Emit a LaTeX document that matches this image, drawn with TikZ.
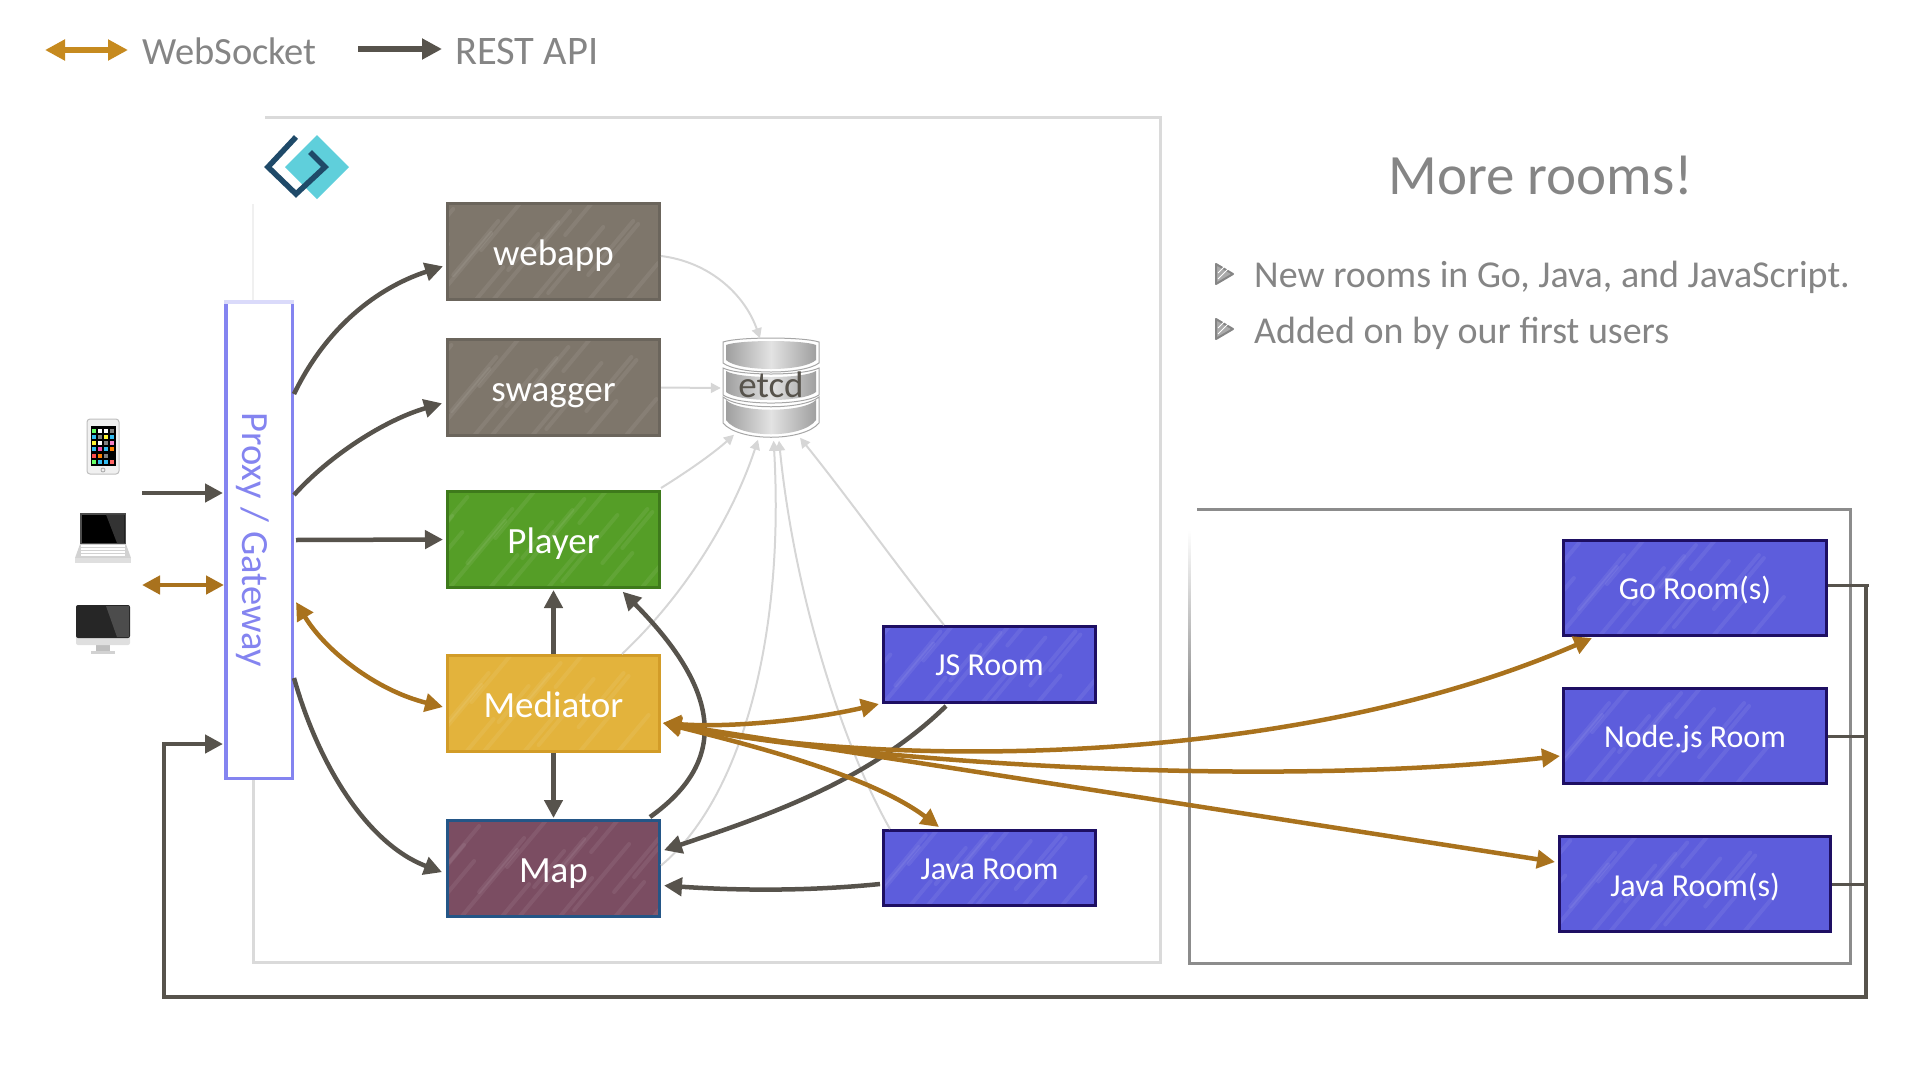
\documentclass[tikz,border=0pt]{standalone}
\usepackage{fontspec}
\setmainfont{Carlito}
\usetikzlibrary{positioning}
\usetikzlibrary{arrows.meta}
\definecolor{wsOrange}{HTML}{A9721D}
\definecolor{wsLegend}{HTML}{C68A1F}
\definecolor{restGrey}{HTML}{57534C}
\definecolor{etcdLine}{HTML}{D6D6D6}
\definecolor{textGrey}{HTML}{858585}
\definecolor{proxyBlue}{HTML}{8484F0}
\definecolor{roomFill}{HTML}{5D5DDC}
\definecolor{roomEdge}{HTML}{1E0F63}
\tikzset{%
  streak/.style={
    white,
    opacity=0.07,
    line width=4pt,
    line cap=round
  },
  sketchy/.style={
    path picture={
      \foreach \sx/\sy/\sl in {-125/20/40,-100/45/55,-90/5/35,-70/-20/30,-62/40/60,-40/10/45,-30/50/40,-12/-15/40,0/35/65,15/5/30,28/50/45,42/-12/35,55/28/55,72/-30/35,85/48/40,95/10/45,115/-5/30,-115/-10/25,130/40/35}{
        \draw[streak,shift={(path picture bounding box.center)}] (\sx,\sy) -- ++(\sl,-\sl*1.2);
      }
    }
  },
  service/.style={
    rectangle,
    draw,
    sketchy,
    line width=3pt,
    minimum width=212pt,
    minimum height=96pt,
    text=white,
    text height=27pt,
    text depth=0pt,
    font=\fontsize{37}{40}\selectfont
  },
  room/.style={
    rectangle,
    draw=roomEdge,
    fill=roomFill,
    sketchy,
    line width=3pt,
    text=white,
    text height=22pt,
    text depth=0pt,
    font=\fontsize{32}{36}\selectfont
  },
  rest/.style={draw=restGrey, line width=4.5pt, -{Triangle[length=18pt,width=18pt]}, shorten >=1pt},
  socket/.style={draw=wsOrange, line width=4.5pt, {Triangle[length=18pt,width=18pt]}-{Triangle[length=18pt,width=18pt]}},
  etcdarrow/.style={draw=etcdLine, line width=2pt, -{Triangle[length=10pt,width=10pt]}},
  legendtext/.style={text=textGrey, anchor=base west, inner sep=0pt, font=\fontsize{38.5}{42}\selectfont},
  bullettext/.style={text=textGrey, anchor=base west, inner sep=0pt, font=\fontsize{38}{42}\selectfont},
  bulletmark/.style={draw=textGrey, fill=textGrey!70, line width=2pt, line join=round}
}
\newcommand{\etcdslice}[4]{%
  \filldraw[draw=gray!70, fill=white, line width=1pt] (723,#1) .. controls (739,#2) and (803,#2) .. (819,#1) -- (819,#3) .. controls (803,#4) and (739,#4) .. (723,#3) -- cycle;
  \shade[left color=gray!75, right color=gray!75, middle color=gray!22] (726,#1+3) .. controls (739,#2+3) and (803,#2+3) .. (816,#1+3) -- (816,#3-3) .. controls (803,#4-3) and (739,#4-3) .. (726,#3-3) -- cycle;
}
\begin{document}
\begin{tikzpicture}[x=1pt,y=-1pt]
  \useasboundingbox (0,0) rectangle (1920,1080);

  % Legend
  \node[legendtext] (wslabel) at (142,64) {WebSocket};
  \node[legendtext,font=\fontsize{40.5}{44}\selectfont] (restlabel) at (455,64) {REST API};
  \coordinate (wsfrom) at (45,50);
  \coordinate (wsto) at (128,50);
  \coordinate (restfrom) at (358,49);
  \coordinate (restto) at (442,49);
  \path[socket,draw=wsLegend,line width=6pt,{Triangle[length=20pt,width=20pt]}-{Triangle[length=20pt,width=20pt]}] (wsfrom) -- (wsto);
  \path[rest,line width=5.5pt,-{Triangle[length=20pt,width=20pt]},shorten >=0pt] (restfrom) -- (restto);

  % Frames
  \draw[draw=etcdLine!90,line width=3pt] (265,117.5) -- (1160,117.5) -- (1160,962) -- (253,962) -- (253,780);
  \draw[draw=gray!12,line width=1.5pt] (253,204) -- (253,300);
  \draw[draw=gray!90,line width=3pt] (1197,509) -- (1850,509) -- (1850,963) -- (1189,963) -- (1189,700);
  \shade[top color=white,bottom color=gray!90] (1188,530) rectangle (1190.5,700);

  % Logo
  \fill[fill={rgb,255:red,95;green,207;blue,219}] (317,135) -- (349,167) -- (317,199) -- (285,167) -- cycle;
  \draw[draw={rgb,255:red,31;green,74;blue,105},line width=5.5pt] (296,137) -- (268,167) -- (296,194) -- (325,167) -- (310,152);

  % Title
  \node[text=textGrey,anchor=base,inner sep=0pt,font=\fontsize{57}{60}\selectfont] (title) at (1541,194) {More rooms!};
  \node[bullettext] (bulletone) at (1254,287) {New rooms in Go, Java, and JavaScript.};
  \node[bullettext] (bullettwo) at (1254,343) {Added on by our first users};
  \foreach \by in {264,319}{
    \draw[bulletmark] (1216,\by) -- (1233,\by+10) -- (1216,\by+20) -- cycle;
    \draw[white,line width=1pt] (1218,\by+9) -- (1224,\by+3);
    \draw[white,line width=1pt] (1218,\by+15) -- (1228,\by+5);
  }

  % Phone
  \filldraw[draw=gray!50,fill=gray!12,line width=1pt,rounded corners=3pt] (87,419) rectangle (119,474);
  \fill[black] (90.5,426) rectangle (116,466);
  \foreach \ic [count=\n from 0] in {green!60,white,white,gray,cyan!80,gray,yellow!80,cyan!80,yellow!80,white,gray,magenta!50,cyan!80,magenta!70,cyan!80,orange,red!70,orange,gray,black,green!60,cyan!80,cyan!80,red!60}{
    \pgfmathtruncatemacro\ix{mod(\n,4)}
    \pgfmathtruncatemacro\iy{div(\n,4)}
    \fill[\ic] (92+\ix*6,428.5+\iy*6.3) rectangle ++(4,4);
  }
  \draw[draw=gray!70,line width=0.8pt] (103,470) circle (2pt);

  % Laptop
  \fill[gray!60!black] (80,513) rectangle (126,544);
  \fill[black] (81.5,514.5) rectangle (124.5,543);
  \fill[gray!40!black] (106,514.5) -- (124.5,514.5) -- (124.5,543) -- (117,543) -- cycle;
  \fill[gray!35] (80,544) -- (126,544) -- (131,558) -- (75,558) -- cycle;
  \foreach \kr in {546,549,552,555}{
    \draw[draw=white,line width=1.6pt] (81,\kr) -- (125,\kr);
  }
  \fill[gray!25] (75,558) rectangle (131,563);

  % Desktop
  \fill[gray!35] (91,651) rectangle (115,654);
  \fill[gray!50] (96,645) rectangle (110,651);
  \fill[gray!25,rounded corners=2pt] (76,636) rectangle (130,645);
  \fill[black!85,rounded corners=2pt] (76,605) rectangle (130,638);
  \fill[gray!60!black] (106,606) -- (129,606) -- (129,637) -- (117,637) -- cycle;

  % Proxy
  \node[draw=proxyBlue,fill=white,line width=3.5pt,minimum width=66.5pt,minimum height=476.5pt] (proxy) at (259,540) {};
  \draw[draw=proxyBlue!30,line width=3.5pt] ([yshift=-1.75pt]proxy.north west) -- ([yshift=-1.75pt]proxy.north east);
  \node[rotate=-90,text=proxyBlue,inner sep=0pt,font=\fontsize{38.5}{42}\selectfont] (proxylabel) at (253,540) {Proxy / Gateway};

  % Services
  \node[service,draw={rgb,255:red,107;green,101;blue,92},fill={rgb,255:red,126;green,118;blue,107}] (webapp) at (553.5,251.5) {webapp};
  \node[service,draw={rgb,255:red,107;green,101;blue,92},fill={rgb,255:red,126;green,118;blue,107},below=37pt of webapp] (swagger) {swagger};
  \node[service,draw={rgb,255:red,62;green,122;blue,27},fill={rgb,255:red,85;green,158;blue,39},below=53pt of swagger] (player) {Player};
  \node[service,draw={rgb,255:red,210;green,156;blue,40},fill={rgb,255:red,227;green,179;blue,60},below=65pt of player] (mediator) {Mediator};
  \node[service,draw={rgb,255:red,36;green,86;blue,135},fill={rgb,255:red,123;green,77;blue,98},below=66pt of mediator] (map) {Map};

  % Rooms
  \node[room,minimum width=212pt,minimum height=76pt] (jsroom) at (989.5,664.5) {JS Room};
  \node[room,minimum width=212pt,minimum height=75pt] (javaroom) at (989.5,868) {Java Room};
  \node[room,minimum width=263pt,minimum height=95pt] (goroom) at (1695,588) {Go Room(s)};
  \node[room,minimum width=263pt,minimum height=95pt,below=50pt of goroom] (noderoom) {Node.js Room};
  \node[room,minimum width=271pt,minimum height=95pt,text height=25pt,below=50pt of noderoom] (javarooms) {Java Room(s)};

  % etcd
  \etcdslice{342}{336.7}{363}{375}
  \etcdslice{368}{376}{395}{405.7}
  \etcdslice{397}{410}{423}{442}
  \node[minimum width=96pt,minimum height=99pt,inner sep=0pt,text=restGrey,text height=18pt,text depth=0pt,font=\fontsize{37}{40}\selectfont] (etcd) at (771,388) {etcd};

  % everything -> etcd
  \path[etcdarrow] ([yshift=-4.5pt]webapp.east) .. controls (710,262) and (745,295) .. ([xshift=-11pt]etcd.north);
  \path[etcdarrow] (swagger.east) -- ([xshift=-2pt]etcd.west);
  \path[etcdarrow] ([yshift=51.5pt]player.east) .. controls (690,470) and (715,452) .. ([xshift=-37pt,yshift=3pt]etcd.south);
  \path[etcdarrow] ([xshift=68.5pt]mediator.north) .. controls (690,590) and (735,510) .. ([xshift=-13pt,yshift=-2pt]etcd.south);
  \path[etcdarrow] ([yshift=3pt]map.east) .. controls (740,800) and (785,640) .. ([xshift=2.6pt,yshift=-3pt]etcd.south);
  \path[etcdarrow] ([xshift=-99.5pt]javaroom.north) .. controls (845,750) and (795,600) .. ([xshift=8pt,yshift=-3pt]etcd.south);
  \path[etcdarrow] ([xshift=-45.5pt]jsroom.north) .. controls (900,570) and (850,500) .. ([xshift=29pt]etcd.south);

  % clients -> proxy
  \coordinate (clientrest) at (142,493);
  \coordinate (clientws) at (142,585);
  \path[rest] (clientrest) -- ([yshift=47pt]proxy.west);
  \path[socket] (clientws) -- ([yshift=-45pt]proxy.west);

  % proxy -> services
  \path[rest] ([yshift=146pt]proxy.east) .. controls (330,320) and (385,285) .. ([xshift=-2pt,yshift=-14.5pt]webapp.west);
  \path[rest] ([yshift=45pt]proxy.east) .. controls (330,455) and (385,420) .. ([xshift=-3pt,yshift=-15.5pt]swagger.west);
  \path[rest,shorten <=2pt,shorten >=3pt] (proxy.east) -- (player.west);
  \path[rest] ([yshift=-138pt]proxy.east) .. controls (320,770) and (370,845) .. ([xshift=-3pt,yshift=-4pt]map.west);

  % mediator, map
  \path[rest] (mediator.north) -- (player.south);
  \path[rest] (mediator.south) -- (map.north);
  \path[rest] ([xshift=96.5pt,yshift=2pt]map.north) .. controls (730,760) and (720,690) .. ([xshift=68.5pt,yshift=-2pt]player.south);
  \path[rest] ([xshift=-43.5pt,yshift=-2pt]jsroom.south) .. controls (870,780) and (770,815) .. ([xshift=2pt,yshift=18pt]map.east);
  \path[rest] ([xshift=-2pt,yshift=-16pt]javaroom.west) .. controls (800,892) and (730,890) .. ([xshift=2pt,yshift=-17pt]map.east);

  % rooms -> proxy
  \coordinate (bustop) at (1866,585);
  \coordinate (busbottom) at (164,997);
  \draw[draw=restGrey,line width=3pt] ([yshift=3pt]goroom.east) -- ([xshift=3pt]bustop);
  \draw[draw=restGrey,line width=3pt] (noderoom.east) -- (noderoom.east -| bustop);
  \draw[draw=restGrey,line width=3pt] (javarooms.east) -- (javarooms.east -| bustop);
  \path[rest] (bustop) |- (busbottom) |- ([yshift=-204pt]proxy.west);

  % websockets
  \path[socket] ([xshift=2pt,yshift=-62pt]proxy.east) .. controls (325,650) and (375,690) .. ([xshift=-3pt,yshift=-3.5pt]mediator.west);
  \path[socket] ([xshift=2pt,yshift=-19.5pt]mediator.east) .. controls (730,728) and (810,720) .. ([xshift=-3pt,yshift=-39.5pt]jsroom.west);
  \path[socket] ([xshift=2pt,yshift=-19.5pt]mediator.east) .. controls (750,745) and (870,775) .. ([xshift=-50.5pt,yshift=2pt]javaroom.north);
  \path[socket] ([xshift=2pt,yshift=-19.5pt]mediator.east) .. controls (900,770) and (1300,765) .. ([xshift=-103pt,yshift=-1pt]goroom.south);
  \path[socket] ([xshift=2pt,yshift=-19.5pt]mediator.east) .. controls (850,760) and (1250,790) .. ([xshift=-2pt,yshift=-20pt]noderoom.west);
  \path[socket] ([xshift=2pt,yshift=-19.5pt]mediator.east) -- ([xshift=-3pt,yshift=22pt]javarooms.west);
\end{tikzpicture}
\end{document}
